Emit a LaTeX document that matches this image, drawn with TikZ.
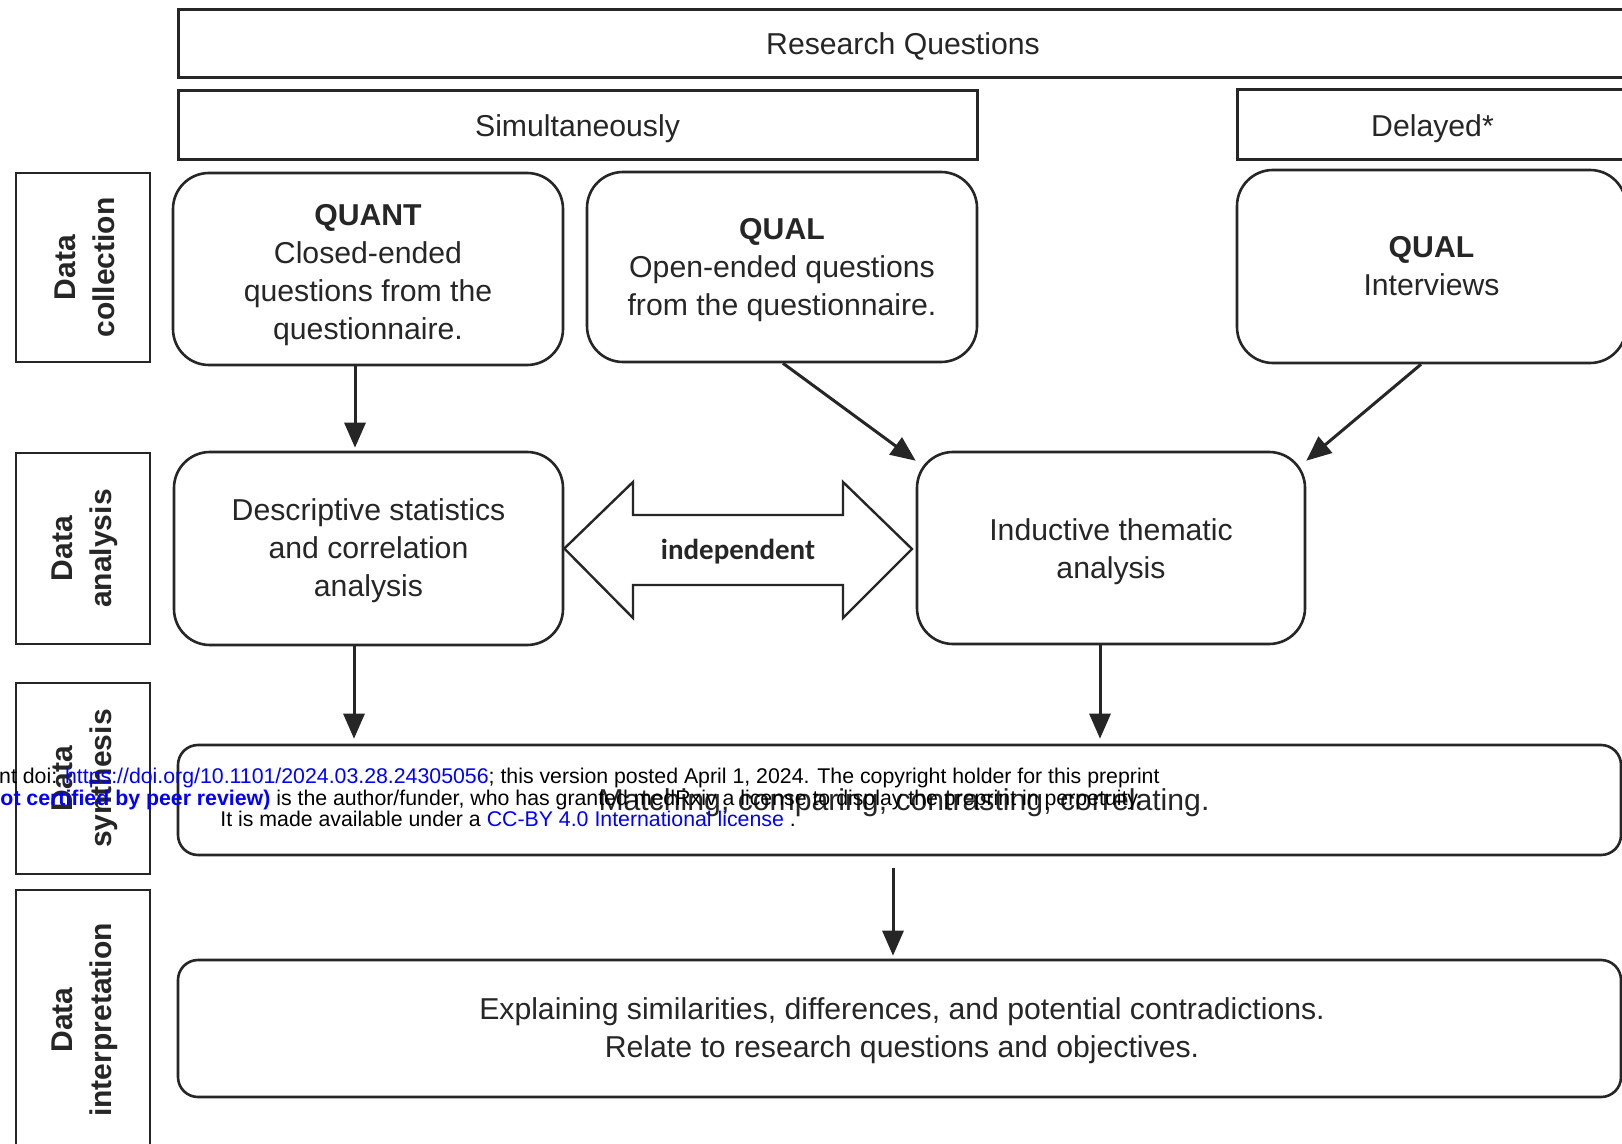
\documentclass[tikz,border=0pt]{standalone}
\usepackage{fontspec}
\setmainfont{Liberation Sans}
\newfontfamily\calib{Carlito}
\usetikzlibrary{arrows.meta,calc}
\definecolor{ink}{HTML}{262626}
\definecolor{wmblue}{HTML}{0000FF}
\begin{document}
\begin{tikzpicture}[x=0.5pt,y=-0.5pt,
  txt/.style={text=ink,font=\fontsize{15.1}{19}\selectfont,align=center,inner sep=0pt},
  hbox/.style={draw=ink,line width=1.5pt,inner sep=0pt},
  rbox/.style={draw=ink,line width=1.3pt,rounded corners=18pt,inner sep=0pt},
  wbox/.style={draw=ink,line width=1.3pt,rounded corners=10pt,inner sep=0pt},
  lbl/.style={draw=ink,line width=1.2pt,rotate=90,inner sep=0pt},
  lbltxt/.style={rotate=90,align=center,text=ink,
     font=\fontsize{15}{19.5}\selectfont\bfseries,inner sep=0pt},
  arr/.style={draw=ink,line width=1.5pt,-{Triangle[length=12.5pt,width=10.5pt]}},
  wm/.style={font=\fontsize{10.65}{10.65}\selectfont,text=black,inner sep=0pt}]
\useasboundingbox (0,0) rectangle (1622,1144);
\fill[white] (0,0) rectangle (1622,1144);
\clip (0,0) rectangle (1622,1144);

% header boxes
\node[hbox,minimum width=725pt,minimum height=34pt] (rq) at (903,44) {};
\node[txt] (rqt) at ([yshift=-1pt]rq.center) {Research Questions};
\node[hbox,minimum width=399.5pt,minimum height=34.5pt] (sim) at (577.5,125.5) {};
\node[txt] (simt) at ([yshift=-1.5pt]sim.center) {Simultaneously};
\node[hbox,minimum width=195.5pt,minimum height=35pt] (del) at (1432.5,125) {};
\node[txt] (delt) at ([yshift=-2pt]del.center) {Delayed*};

% side labels
\node[lbl,minimum width=94.5pt,minimum height=67pt] (dc) at (83,267.5) {};
\node[lbltxt] (dct) at ([xshift=1pt]dc.center) {Data\\collection};
\node[lbl,minimum width=95.5pt,minimum height=67pt] (da) at (83,548.5) {};
\node[lbltxt] (dat) at ([xshift=1pt]da.center) {Data\\analysis};
\node[lbl,minimum width=95.5pt,minimum height=67pt] (ds) at (83,778.5) {};
\node[lbltxt] (dst) at ([xshift=1pt]ds.center) {Data\\synthesis};
\node[lbl,minimum width=130pt,minimum height=67pt] (di) at (83,1020) {};
\node[lbltxt] (dit) at ([xshift=1pt]di.center) {Data\\interpretation};

% collection boxes
\node[rbox,minimum width=195pt,minimum height=96pt] (quant) at (368,269) {};
\node[txt] (quantt) at ([yshift=-3pt]quant.center)
  {\textbf{QUANT}\\Closed-ended\\questions from the\\questionnaire.};
\node[rbox,minimum width=195pt,minimum height=95pt] (qual) at (782,267) {};
\node[txt] (qualt) at ([yshift=-1.6pt]qual.center)
  {\textbf{QUAL}\\Open-ended questions\\from the questionnaire.};
\node[rbox,minimum width=194.5pt,minimum height=96.5pt] (intv) at (1431.5,266.5) {};
\node[txt] (intvt) at (intv.center) {\textbf{QUAL}\\Interviews};

% analysis boxes
\node[rbox,minimum width=194.5pt,minimum height=96.5pt] (desc) at (368.5,548.5) {};
\node[txt] (desct) at ([yshift=-1.3pt]desc.center)
  {Descriptive statistics\\and correlation\\analysis};
\node[rbox,minimum width=194pt,minimum height=96pt] (ind) at (1111,548) {};
\node[txt] (indt) at ([yshift=-2pt]ind.center) {Inductive thematic\\analysis};

% synthesis and interpretation
\node[wbox,minimum width=721.5pt,minimum height=55pt] (syn) at (899.5,800) {};
\node[txt] (syntext) at (904,803) {Matching, comparing, contrasting, correlating.};
\node[wbox,minimum width=721.5pt,minimum height=68.5pt] (interp) at (899.5,1028.5) {};
\node[txt] (interptext) at (902,1031)
  {Explaining similarities, differences, and potential contradictions.\\Relate to research questions and objectives.};

% double arrow
\draw[draw=ink,line width=1.2pt,fill=white,line join=miter]
  (desc.east) -- (633,482) -- (633,515) -- (843,515) -- (843,482) -- (912,549)
  -- (843,618) -- (843,585) -- (633,585) -- (633,618) -- cycle;
\node[text=ink,font=\calib\bfseries\fontsize{14.5}{14.5}\selectfont] (indep) at (738,552) {independent};

% connectors
\draw[arr] (quant.south -| 355,0) -- ($(desc.north -| 355,0)+(0,-3)$);
\draw[arr] (qual.south -| 783,0) -- ($(ind.north west)+(0,10)$);
\draw[arr] (intv.south -| 1421,0) -- ($(ind.north east)+(0,10)$);
\draw[arr] (desc.south -| 354,0) -- ($(syn.north -| 354,0)+(0,-5)$);
\draw[arr] (ind.south -| 1100,0) -- ($(syn.north -| 1100,0)+(0,-5)$);
\draw[arr] ($(syn.south -| 893,0)+(0,12)$) -- ($(interp.north -| 893,0)+(0,-3)$);

% overlaid preprint notice
\node[wm,anchor=base east] (wm1) at (1160,783)
  {nt doi: \textcolor{wmblue}{https://doi.org/10.1101/2024.03.28.24305056}; this version posted April 1, 2024. The copyright holder for this preprint};
\node[wm,anchor=base east] (wm2) at (1143,805)
  {\textcolor{wmblue}{\bfseries ot certified by peer review)} is the author/funder, who has granted medRxiv a license to display the preprint in perpetuity.};
\node[wm,anchor=base west] (wm3) at (220,826)
  {It is made available under a \textcolor{wmblue}{CC-BY 4.0 International license} .};
\end{tikzpicture}
\end{document}
